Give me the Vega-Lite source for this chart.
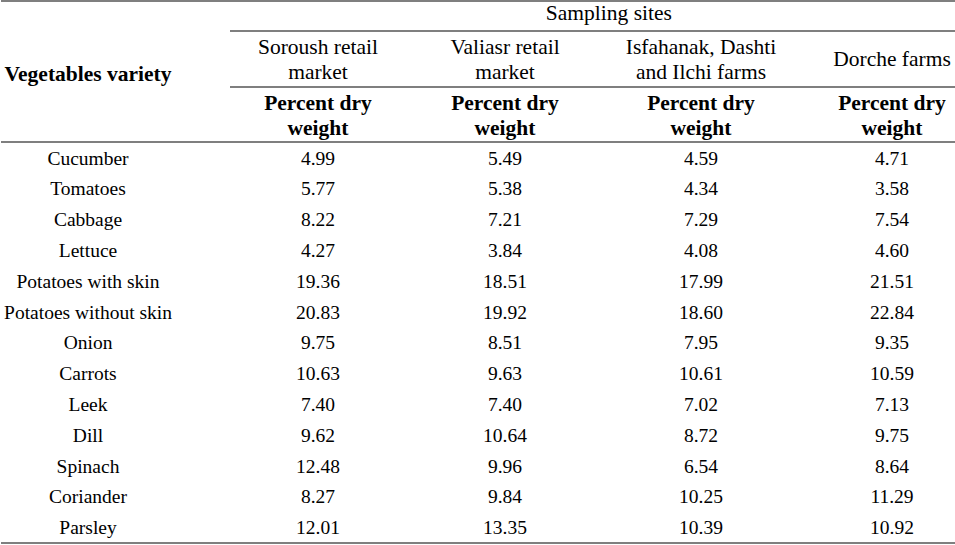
{
  "$schema": "https://vega.github.io/schema/vega-lite/v6.json",
  "width": 955,
  "height": 545,
  "autosize": {"type": "fit", "contains": "padding"},
  "padding": 0,
  "background": "white",
  "config": {"view": {"stroke": null}, "axis": {"disable": true}, "text": {"font": "'Liberation Serif', 'Times New Roman', 'DejaVu Serif', serif"}},
  "datasets": {
    "rows": [
      {"row": 1, "veg": "Cucumber", "Soroush": 4.99, "Valiasr": 5.49, "Isfahanak": 4.59, "Dorche": 4.71},
      {"row": 2, "veg": "Tomatoes", "Soroush": 5.77, "Valiasr": 5.38, "Isfahanak": 4.34, "Dorche": 3.58},
      {"row": 3, "veg": "Cabbage", "Soroush": 8.22, "Valiasr": 7.21, "Isfahanak": 7.29, "Dorche": 7.54},
      {"row": 4, "veg": "Lettuce", "Soroush": 4.27, "Valiasr": 3.84, "Isfahanak": 4.08, "Dorche": 4.60},
      {"row": 5, "veg": "Potatoes with skin", "Soroush": 19.36, "Valiasr": 18.51, "Isfahanak": 17.99, "Dorche": 21.51},
      {"row": 6, "veg": "Potatoes without skin", "Soroush": 20.83, "Valiasr": 19.92, "Isfahanak": 18.60, "Dorche": 22.84},
      {"row": 7, "veg": "Onion", "Soroush": 9.75, "Valiasr": 8.51, "Isfahanak": 7.95, "Dorche": 9.35},
      {"row": 8, "veg": "Carrots", "Soroush": 10.63, "Valiasr": 9.63, "Isfahanak": 10.61, "Dorche": 10.59},
      {"row": 9, "veg": "Leek", "Soroush": 7.40, "Valiasr": 7.40, "Isfahanak": 7.02, "Dorche": 7.13},
      {"row": 10, "veg": "Dill", "Soroush": 9.62, "Valiasr": 10.64, "Isfahanak": 8.72, "Dorche": 9.75},
      {"row": 11, "veg": "Spinach", "Soroush": 12.48, "Valiasr": 9.96, "Isfahanak": 6.54, "Dorche": 8.64},
      {"row": 12, "veg": "Coriander", "Soroush": 8.27, "Valiasr": 9.84, "Isfahanak": 10.25, "Dorche": 11.29},
      {"row": 13, "veg": "Parsley", "Soroush": 12.01, "Valiasr": 13.35, "Isfahanak": 10.39, "Dorche": 10.92}
    ],
    "sites": [
      {"site": "Soroush", "col": 3},
      {"site": "Valiasr", "col": 4},
      {"site": "Isfahanak", "col": 5},
      {"site": "Dorche", "col": 6}
    ],
    "headers": [
      {"text": "Sampling sites", "col": 4.53, "row": -9},
      {"text": "Soroush retail|market", "col": 3, "row": -7},
      {"text": "Valiasr retail|market", "col": 4, "row": -7},
      {"text": "Isfahanak, Dashti|and Ilchi farms", "col": 5, "row": -7},
      {"text": "Dorche farms", "col": 6, "row": -6}
    ],
    "boldHeaders": [
      {"text": "Vegetables variety", "col": 1, "row": -5},
      {"text": "Percent dry|weight", "col": 3, "row": -3},
      {"text": "Percent dry|weight", "col": 4, "row": -3},
      {"text": "Percent dry|weight", "col": 5, "row": -3},
      {"text": "Percent dry|weight", "col": 6, "row": -3}
    ],
    "lines": [
      {"row": -10, "from": 0, "to": 7},
      {"row": -8, "from": 2, "to": 7},
      {"row": -4, "from": 2, "to": 7},
      {"row": -2, "from": 0, "to": 7},
      {"row": 14, "from": 0, "to": 7}
    ]
  },
  "encoding": {
    "y": {
      "field": "row",
      "type": "quantitative",
      "scale": {
        "domain": [-10, -9, -8, -7, -6, -5, -4, -3, -2, 1, 13, 14],
        "range": [1, 20, 31, 54, 66, 81, 87, 109.5, 142, 164.5, 534.3, 543],
        "nice": false,
        "zero": false
      },
      "axis": null
    }
  },
  "layer": [
    {
      "data": {"name": "lines"},
      "mark": {"type": "rule", "color": "black", "strokeWidth": 1.2},
      "encoding": {
        "x": {
          "field": "from",
          "type": "quantitative",
          "scale": {
            "domain": [0, 1, 2, 3, 4, 5, 6, 7],
            "range": [0, 87, 229, 317, 504, 700, 891, 955],
            "nice": false,
            "zero": false
          },
          "axis": null
        },
        "x2": {"field": "to"}
      }
    },
    {
      "data": {"name": "rows"},
      "mark": {"type": "text", "fontSize": 19.5, "baseline": "alphabetic", "align": "center", "color": "black"},
      "encoding": {
        "x": {"datum": 1, "type": "quantitative"},
        "text": {"field": "veg", "type": "nominal"}
      }
    },
    {
      "data": {"name": "rows"},
      "transform": [
        {"fold": ["Soroush", "Valiasr", "Isfahanak", "Dorche"], "as": ["site", "value"]},
        {"lookup": "site", "from": {"data": {"name": "sites"}, "key": "site", "fields": ["col"]}}
      ],
      "mark": {"type": "text", "fontSize": 19.5, "baseline": "alphabetic", "align": "center", "color": "black"},
      "encoding": {
        "x": {"field": "col", "type": "quantitative"},
        "text": {"field": "value", "type": "quantitative", "format": ".2f"}
      }
    },
    {
      "data": {"name": "headers"},
      "mark": {"type": "text", "fontSize": 21.5, "baseline": "alphabetic", "align": "center", "color": "black", "lineBreak": "|", "lineHeight": 25},
      "encoding": {
        "x": {"field": "col", "type": "quantitative"},
        "text": {"field": "text", "type": "nominal"}
      }
    },
    {
      "data": {"name": "boldHeaders"},
      "mark": {"type": "text", "fontSize": 21.5, "fontWeight": "bold", "baseline": "alphabetic", "align": "center", "color": "black", "lineBreak": "|", "lineHeight": 25},
      "encoding": {
        "x": {"field": "col", "type": "quantitative"},
        "text": {"field": "text", "type": "nominal"}
      }
    }
  ]
}
